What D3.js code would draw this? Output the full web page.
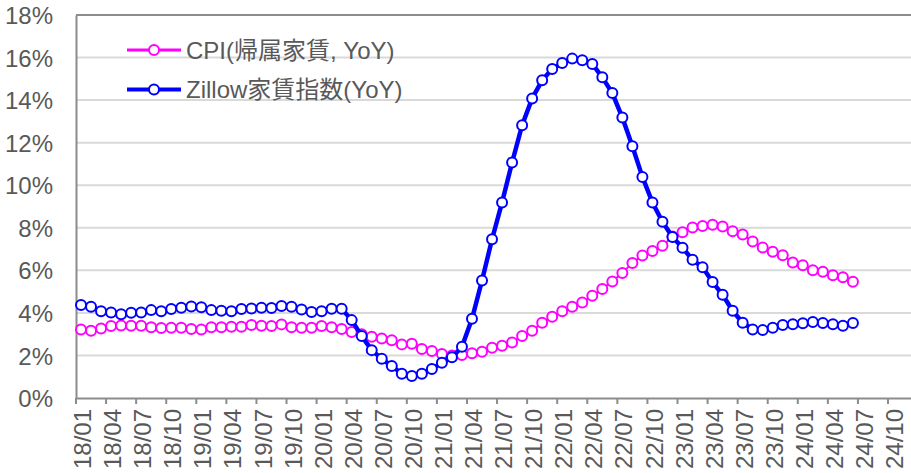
<!DOCTYPE html>
<html>
<head>
<meta charset="utf-8">
<script src="https://cdn.jsdelivr.net/npm/d3@7"></script>
<style>
  html, body { margin: 0; padding: 0; background: #fff; overflow: hidden; }
  text { font-family: "Liberation Sans", Arial, "Noto Sans CJK JP", sans-serif; fill: #595959; }
</style>
</head>
<body>
<svg id="chart" width="911" height="473"></svg>
<script>
// axis categories: 18/01 .. 24/12 (monthly), data runs to 24/06
var months = [];
for (var yy = 18; yy <= 24; yy++) {
  for (var mm = 1; mm <= 12; mm++) {
    months.push(yy + '/' + (mm < 10 ? '0' + mm : mm));
  }
}

var yTicks = [0, 2, 4, 6, 8, 10, 12, 14, 16, 18];

var seriesNames = ['CPI(帰属家賃, YoY)', 'Zillow家賃指数(YoY)'];

// CPI owners' equivalent rent, YoY %
var cpi = [
  3.22, 3.16, 3.27, 3.38, 3.41, 3.40, 3.40, 3.32, 3.29, 3.30, 3.30, 3.24,
  3.22, 3.32, 3.33, 3.35, 3.35, 3.43, 3.40, 3.38, 3.46, 3.33, 3.30, 3.30,
  3.38, 3.32, 3.24, 3.10, 3.00, 2.88, 2.80, 2.71, 2.52, 2.55, 2.30, 2.21,
  2.07, 2.00, 2.02, 2.10, 2.17, 2.36, 2.46, 2.61, 2.91, 3.16, 3.54, 3.82,
  4.08, 4.29, 4.49, 4.80, 5.12, 5.48, 5.88, 6.35, 6.70, 6.91, 7.15, 7.59,
  7.79, 8.01, 8.08, 8.14, 8.06, 7.84, 7.68, 7.36, 7.07, 6.87, 6.71, 6.37,
  6.24, 6.00, 5.93, 5.77, 5.67, 5.46
];

// Zillow rent index, YoY %
var zillow = [
  4.37, 4.29, 4.08, 4.02, 3.94, 4.01, 4.02, 4.13, 4.08, 4.18, 4.24, 4.30,
  4.26, 4.13, 4.10, 4.08, 4.18, 4.21, 4.24, 4.23, 4.32, 4.29, 4.16, 4.04,
  4.08, 4.19, 4.19, 3.66, 2.91, 2.25, 1.84, 1.50, 1.14, 1.03, 1.14, 1.36,
  1.66, 1.91, 2.41, 3.72, 5.52, 7.46, 9.19, 11.07, 12.82, 14.08, 14.93, 15.46,
  15.74, 15.95, 15.87, 15.70, 15.07, 14.33, 13.18, 11.83, 10.39, 9.19, 8.28, 7.57,
  7.06, 6.50, 6.14, 5.45, 4.85, 4.10, 3.54, 3.22, 3.19, 3.30, 3.43, 3.47,
  3.51, 3.57, 3.52, 3.47, 3.40, 3.52
];

var colors = ['#ff00ff', '#0000ff'];
var lineWidths = [2, 4.5];

var plotLeft = 76, plotTop = 15, plotBottom = 398;
var step = 10.025;

var svg = d3.select('#chart');

var xScale = d3.scaleBand()
    .domain(months)
    .range([plotLeft, plotLeft + step * months.length])
    .paddingInner(0).paddingOuter(0);

var yScale = d3.scaleLinear()
    .domain([0, 18])
    .range([plotBottom, plotTop]);

var tickMonths = months.filter(function(d, i) { return i % 3 === 0; });

// gridlines
svg.append('g').selectAll('line')
    .data(yTicks.filter(function(d) { return d > 0 && d < 18; }))
  .enter().append('line')
    .attr('x1', plotLeft).attr('x2', 911)
    .attr('y1', function(d) { return yScale(d); })
    .attr('y2', function(d) { return yScale(d); })
    .attr('stroke', '#d9d9d9')
    .attr('stroke-width', 2);

// top border
svg.append('line')
    .attr('x1', plotLeft).attr('x2', 911)
    .attr('y1', yScale(18)).attr('y2', yScale(18))
    .attr('stroke', '#8c8c8c').attr('stroke-width', 2);

// y axis
var yAxis = d3.axisLeft(yScale)
    .tickValues(yTicks)
    .tickSize(0)
    .tickPadding(23)
    .tickFormat(function(d) { return d + '%'; });

var yg = svg.append('g')
    .attr('transform', 'translate(' + plotLeft + ',0)')
    .call(yAxis);
yg.select('.domain').attr('stroke', '#8c8c8c').attr('stroke-width', 2);
yg.selectAll('text')
    .style('font-size', '24px')
    .attr('dy', '0.36em');

// x axis
var xAxis = d3.axisBottom(xScale)
    .tickValues(tickMonths)
    .tickSize(0)
    .tickPadding(0);

var xg = svg.append('g')
    .attr('transform', 'translate(0,' + plotBottom + ')')
    .call(xAxis);
xg.select('.domain').attr('stroke', '#8c8c8c').attr('stroke-width', 2);
xg.selectAll('.tick text')
    .style('font-size', '24px')
    .attr('text-anchor', 'end')
    .attr('y', 0)
    .attr('dy', '0.42em')
    .attr('transform', 'translate(0,11) rotate(-90)');

// tick marks at category boundaries
svg.append('g').selectAll('line')
    .data(tickMonths)
  .enter().append('line')
    .attr('x1', function(d) { return xScale(d); })
    .attr('x2', function(d) { return xScale(d); })
    .attr('y1', plotBottom).attr('y2', plotBottom + 6)
    .attr('stroke', '#8c8c8c').attr('stroke-width', 2);

// series
var series = [cpi, zillow];
var line = d3.line()
    .x(function(d, i) { return xScale(months[i]) + xScale.bandwidth() / 2; })
    .y(function(d) { return yScale(d); });

series.forEach(function(vals, s) {
  var g = svg.append('g');
  g.append('path')
      .datum(vals)
      .attr('d', line)
      .attr('fill', 'none')
      .attr('stroke', colors[s])
      .attr('stroke-width', lineWidths[s])
      .attr('stroke-linejoin', 'round');
  g.selectAll('circle')
      .data(vals)
    .enter().append('circle')
      .attr('cx', function(d, i) { return xScale(months[i]) + xScale.bandwidth() / 2; })
      .attr('cy', function(d) { return yScale(d); })
      .attr('r', 5)
      .attr('fill', '#fff')
      .attr('stroke', colors[s])
      .attr('stroke-width', 2);
});

// legend
var legend = svg.append('g');
seriesNames.forEach(function(name, s) {
  var ly = 50 + s * 39.5;
  legend.append('line')
      .attr('x1', 127).attr('x2', 181)
      .attr('y1', ly).attr('y2', ly)
      .attr('stroke', colors[s])
      .attr('stroke-width', s === 0 ? 3 : 4);
  legend.append('circle')
      .attr('cx', 154).attr('cy', ly).attr('r', 5)
      .attr('fill', '#fff')
      .attr('stroke', colors[s])
      .attr('stroke-width', 2);
  legend.append('text')
      .attr('x', 186).attr('y', ly)
      .attr('dy', '0.36em')
      .style('font-size', '24px')
      .text(name);
});
</script>
</body>
</html>
